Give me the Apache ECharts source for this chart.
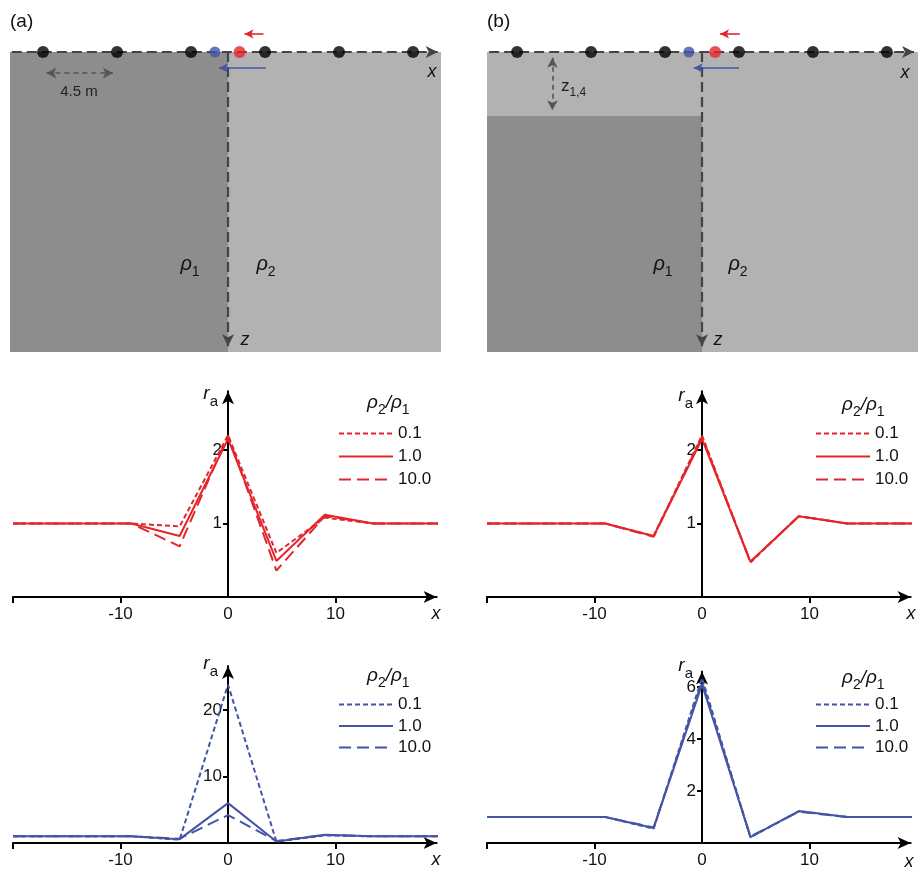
<!DOCTYPE html>
<html><head><meta charset="utf-8">
<script src="https://cdn.jsdelivr.net/npm/echarts@6.0.0/dist/echarts.min.js"></script>
<style>html,body{margin:0;padding:0;background:#fff}#c{width:920px;height:877px}</style>
</head><body><div id="c"></div>
<script>
// ---------- data ----------
const xPos = [-20, -13.5, -9, -4.5, 0, 4.5, 9, 13.5, 20];
const legendNames = ['0.1', '1.0', '10.0'];
// middle row, apparent resistivity (red)
const midA_01 = [1, 1, 1, 0.96, 2.2, 0.6, 1.08, 1, 1];
const midA_1  = [1, 1, 1, 0.83, 2.15, 0.49, 1.12, 1, 1];
const midA_10 = [1, 1, 1, 0.69, 2.2, 0.36, 1.1, 1, 1];
const midB_01 = [1, 1, 1, 0.83, 2.2, 0.47, 1.1, 1, 1];
const midB_1  = [1, 1, 1, 0.83, 2.15, 0.48, 1.1, 1, 1];
const midB_10 = [1, 1, 1, 0.82, 2.18, 0.48, 1.1, 1, 1];
// bottom row (blue)
const botA_01 = [1, 1, 1, 0.5, 23.8, 0.2, 1.15, 1, 1];
const botA_1  = [1, 1, 1, 0.58, 6.0, 0.23, 1.23, 1, 1];
const botA_10 = [1, 1, 1, 0.65, 4.2, 0.3, 1.2, 1, 1];
const botB_01 = [1, 1, 1, 0.55, 6.35, 0.22, 1.22, 1, 1];
const botB_1  = [1, 1, 1, 0.58, 6.1, 0.23, 1.23, 1, 1];
const botB_10 = [1, 1, 1, 0.6, 6.2, 0.25, 1.2, 1, 1];
// tick values
const xTickVals = [-20, -10, 10];
const xTickLabels = [-10, 0, 10];
const yTicksMid = [1, 2];
const yTicksBotA = [10, 20];
const yTicksBotB = [2, 4, 6];
// schematic model (metres): [x0, x1, z0, z1, kind]
const layersA = [[-13.26, 0, 0, 18.25, 0], [0, 12.95, 0, 18.25, 1]];
const layersB = [[-13.08, 13.14, 0, 3.9, 1], [-13.08, 0, 3.9, 18.25, 0], [0, 13.14, 3.9, 18.25, 1]];
const electrodeX = [-11.25, -6.75, -2.25, 2.25, 6.75, 11.25];
const blueXA = -0.8, redXA = 0.7, blueXB = -0.8, redXB = 0.8;
const surfaceA = [[-13.15, 0], [12.75, 0]];
const surfaceB = [[-12.95, 0], [12.9, 0]];
const zAxisLine = [[0, 0], [0, 17.9]];
const spacingArrow = [[-11.05, 1.28], [-7.0, 1.28]];
const redArrowA = [[2.15, -1.1], [1.0, -1.1]];
const blueArrowA = [[2.3, 0.97], [-0.55, 0.97]];
const redArrowB = [[2.3, -1.1], [1.1, -1.1]];
const blueArrowB = [[2.25, 0.97], [-0.5, 0.97]];
const layerArrowB = [[-9.1, 0.35], [-9.1, 3.55]];

// ---------- style ----------
const F = '"Liberation Sans", Arial, sans-serif';
const RED = '#e3262b', BLUE = '#4455a6', DARK = '#8d8d8d', LIGHT = '#b2b2b2', LG = '#444';
const layerFill = [DARK, LIGHT];
const dashes = [[5, 3], 'solid', [12, 6]];
const Y_OFFSET = -215; // y axis drawn at x = 0 (grid left is at x = -20)

const chart = echarts.init(document.getElementById('c'));

function schemAxes(gi, xmin, xmax) {
  return {
    x: { gridIndex: gi, type: 'value', min: xmin, max: xmax, show: false },
    y: { gridIndex: gi, type: 'value', min: -3, max: 18.25, inverse: true, show: false }
  };
}
function renderLayer(params, api) {
  const p0 = api.coord([api.value(0), api.value(2)]);
  const p1 = api.coord([api.value(1), api.value(3)]);
  return { type: 'rect', shape: { x: p0[0], y: p0[1], width: p1[0] - p0[0], height: p1[1] - p0[1] },
    style: { fill: layerFill[api.value(4)] } };
}
function seg(pts, style, s0, s1, size) {
  return [{ coord: pts[0], symbol: s0, symbolSize: size, lineStyle: style }, { coord: pts[1], symbol: s1, symbolSize: size }];
}
const dashGray = { color: LG, width: 2.2, type: [10, 5] };
const dimGray = { color: '#555', width: 1.6, type: [5, 4] };

function schemSeries(gi, layers, surface, bX, rX, redArr, blueArr, extra) {
  const lines = [
    seg(surface, dashGray, 'none', 'arrow', [9, 12]),
    seg(zAxisLine, dashGray, 'none', 'arrow', [9, 12]),
    seg(redArr, { color: RED, width: 1.6, type: 'solid' }, 'none', 'arrow', [7, 9]),
    seg(blueArr, { color: BLUE, width: 1.6, type: 'solid' }, 'none', 'arrow', [7, 9])
  ].concat(extra);
  return [
    { type: 'custom', xAxisIndex: gi, yAxisIndex: gi, renderItem: renderLayer, data: layers, clip: false, z: 1, silent: true },
    { type: 'scatter', xAxisIndex: gi, yAxisIndex: gi, data: electrodeX.map(x => [x, 0]), symbolSize: 12,
      itemStyle: { color: '#000' }, z: 6, silent: true,
      markLine: { silent: true, z: 4, animation: false, label: { show: false }, emphasis: { disabled: true }, data: lines } },
    { type: 'scatter', xAxisIndex: gi, yAxisIndex: gi, data: [[bX, 0]], symbolSize: 11, itemStyle: { color: BLUE }, z: 6, silent: true },
    { type: 'scatter', xAxisIndex: gi, yAxisIndex: gi, data: [[rX, 0]], symbolSize: 12, itemStyle: { color: RED }, z: 6, silent: true }
  ];
}

function chartX(gi) {
  return { gridIndex: gi, type: 'value', min: -20, max: 19.4,
    axisLine: { show: true, onZero: false, symbol: ['none', 'arrow'], symbolSize: [9, 13], lineStyle: { color: '#000', width: 2 } },
    axisTick: { show: true, inside: false, length: 6, lineStyle: { color: '#000', width: 2 }, customValues: xTickVals },
    axisLabel: { customValues: xTickLabels, margin: 9, fontSize: 17, color: '#111', fontFamily: F },
    splitLine: { show: false } };
}
function chartY(gi, max, ticks) {
  return { gridIndex: gi, type: 'value', min: 0, max: max, position: 'left', offset: Y_OFFSET,
    axisLine: { show: true, onZero: false, symbol: ['none', 'arrow'], symbolSize: [9, 13], lineStyle: { color: '#000', width: 2 } },
    axisTick: { show: true, inside: false, length: 5, lineStyle: { color: '#000', width: 2 }, customValues: ticks },
    axisLabel: { customValues: ticks, margin: 6, fontSize: 17, color: '#111', fontFamily: F },
    splitLine: { show: false } };
}
function mkLine(id, gi, values, k, color) {
  return { type: 'line', name: id + '|' + legendNames[k], xAxisIndex: gi, yAxisIndex: gi,
    data: xPos.map((x, i) => [x, values[i]]), symbol: 'none', silent: true,
    lineStyle: { color: color, width: 2, type: dashes[k] }, itemStyle: { color: color }, z: k === 1 ? 4 : 3 };
}
function mkLegend(id, left, top, gap) {
  return { orient: 'vertical', left: left, top: top, itemWidth: 54, itemHeight: 20, itemGap: gap, padding: 0,
    selectedMode: false, itemStyle: { opacity: 0, borderWidth: 0 },
    data: legendNames.map(n => id + '|' + n), formatter: n => n.split('|')[1],
    textStyle: { fontSize: 17, color: '#111', fontFamily: F } };
}

const sA = schemAxes(0, -13.26, 12.95), sB = schemAxes(1, -13.08, 13.14);

// text helpers
function txt(t, x, y, size, opts) {
  opts = opts || {};
  return { type: 'text', x: x, y: y, silent: true, z: 100,
    style: { text: t, fill: opts.fill || '#111', font: (opts.italic ? 'italic ' : '') + size + 'px ' + F,
      align: opts.align || 'left', verticalAlign: 'middle', textAlign: opts.align || 'left', textVerticalAlign: 'middle' } };
}
function richTxt(t, x, y, size, subSize, align, fill) {
  fill = fill || '#111';
  return { type: 'text', x: x, y: y, silent: true, z: 100,
    style: { text: t, align: align, verticalAlign: 'middle', textAlign: align, textVerticalAlign: 'middle', fill: fill,
      font: size + 'px ' + F,
      rich: {
        i: { fontSize: size, fontStyle: 'italic', fontFamily: F, lineHeight: size + 4, verticalAlign: 'top', fill: fill },
        n: { fontSize: size, fontFamily: F, lineHeight: size + 4, verticalAlign: 'top', fill: fill },
        s: { fontSize: subSize, fontFamily: F, lineHeight: subSize + 2, padding: [Math.round(size * 0.55), 0, 0, 0], verticalAlign: 'top', fill: fill }
      } } };
}
const rho21 = '{i|ρ}{s|2}{i|/ρ}{s|1}';

const option = {
  animation: false,
  backgroundColor: '#fff',
  grid: [
    { left: 10, top: 2.7, width: 431, height: 349.3 },
    { left: 487, top: 2.7, width: 431, height: 349.3 },
    { left: 13, top: 391.2, width: 423.6, height: 205.8 },
    { left: 487, top: 391.2, width: 423.6, height: 205.8 },
    { left: 13, top: 666.1, width: 423.6, height: 176.9 },
    { left: 487, top: 671.4, width: 423.6, height: 171.6 }
  ],
  xAxis: [sA.x, sB.x, chartX(2), chartX(3), chartX(4), chartX(5)],
  yAxis: [sA.y, sB.y, chartY(2, 2.8, yTicksMid), chartY(3, 2.8, yTicksMid), chartY(4, 26.6, yTicksBotA), chartY(5, 6.6, yTicksBotB)],
  legend: [mkLegend('mA', 338, 425, 6), mkLegend('mB', 815, 425, 6), mkLegend('bA', 338, 696, 4.5), mkLegend('bB', 815, 696, 4.5)],
  series: [].concat(
    schemSeries(0, layersA, surfaceA, blueXA, redXA, redArrowA, blueArrowA,
      [seg(spacingArrow, dimGray, 'arrow', 'arrow', [8, 10])]),
    schemSeries(1, layersB, surfaceB, blueXB, redXB, redArrowB, blueArrowB,
      [seg(layerArrowB, dimGray, 'arrow', 'arrow', [8, 10])]),
    [mkLine('mA', 2, midA_01, 0, RED), mkLine('mA', 2, midA_1, 1, RED), mkLine('mA', 2, midA_10, 2, RED),
     mkLine('mB', 3, midB_01, 0, RED), mkLine('mB', 3, midB_1, 1, RED), mkLine('mB', 3, midB_10, 2, RED),
     mkLine('bA', 4, botA_01, 0, BLUE), mkLine('bA', 4, botA_1, 1, BLUE), mkLine('bA', 4, botA_10, 2, BLUE),
     mkLine('bB', 5, botB_01, 0, BLUE), mkLine('bB', 5, botB_1, 1, BLUE), mkLine('bB', 5, botB_10, 2, BLUE)]
  ),
  graphic: [
    txt('(a)', 10, 22, 19),
    txt('(b)', 487, 22, 19),
    txt('x', 432, 72, 18, { italic: true, align: 'center' }),
    txt('x', 905, 73, 18, { italic: true, align: 'center' }),
    txt('4.5 m', 79, 92, 15, { align: 'center', fill: '#222' }),
    txt('z', 245, 340, 18, { italic: true, align: 'center' }),
    txt('z', 718, 340, 18, { italic: true, align: 'center' }),
    richTxt('{i|ρ}{s|1}', 190, 266, 20, 14, 'center'),
    richTxt('{i|ρ}{s|2}', 266, 266, 20, 14, 'center'),
    richTxt('{i|ρ}{s|1}', 663, 266, 20, 14, 'center'),
    richTxt('{i|ρ}{s|2}', 738, 266, 20, 14, 'center'),
    richTxt('{n|z}{s|1,4}', 561, 88, 17, 12, 'left', '#222'),
    richTxt('{i|r}{s|a}', 218, 396, 19, 15, 'right'),
    richTxt('{i|r}{s|a}', 693, 398, 19, 15, 'right'),
    richTxt('{i|r}{s|a}', 218, 666, 19, 15, 'right'),
    richTxt('{i|r}{s|a}', 693, 668, 19, 15, 'right'),
    richTxt(rho21, 367, 405, 19, 14, 'left'),
    richTxt(rho21, 842, 407, 19, 14, 'left'),
    richTxt(rho21, 367, 678, 19, 14, 'left'),
    richTxt(rho21, 842, 680, 19, 14, 'left'),
    txt('x', 436, 614, 18, { italic: true, align: 'center' }),
    txt('x', 911, 614, 18, { italic: true, align: 'center' }),
    txt('x', 436, 860, 18, { italic: true, align: 'center' }),
    txt('x', 909, 862, 18, { italic: true, align: 'center' })
  ]
};
chart.setOption(option);
</script>
</body></html>
